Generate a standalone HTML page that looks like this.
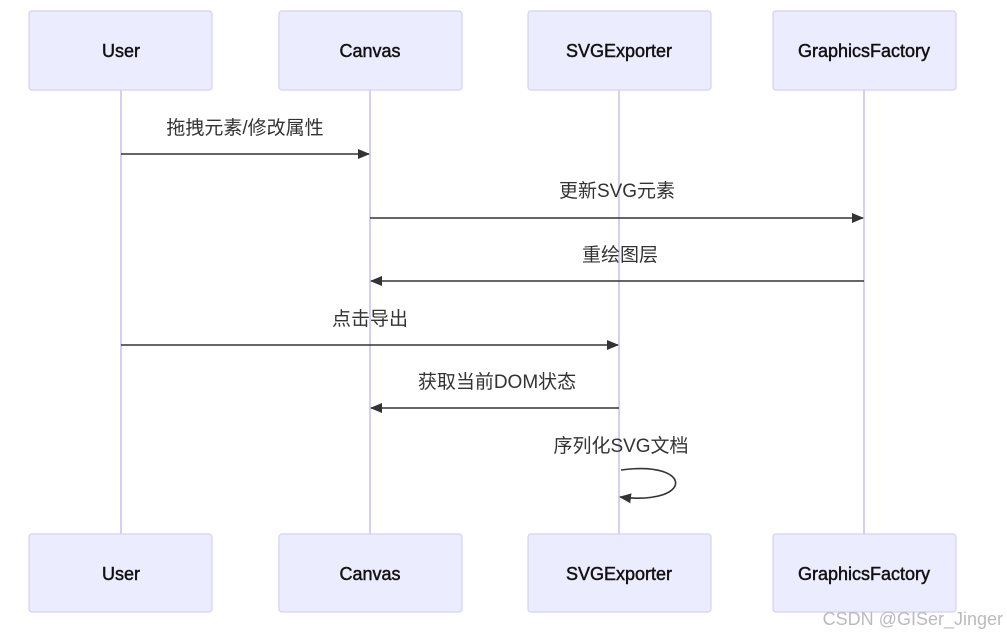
<!DOCTYPE html>
<html><head><meta charset="utf-8"><style>
html,body{margin:0;padding:0;background:#fff;width:1007px;height:637px;overflow:hidden}
svg text{font-family:"Liberation Sans","Noto Sans CJK SC",sans-serif}
</style></head><body>
<svg width="1007" height="637" viewBox="0 0 1007 637" xmlns="http://www.w3.org/2000/svg">
<defs><marker id="a" markerWidth="12" markerHeight="10" refX="11" refY="5" orient="auto" markerUnits="userSpaceOnUse"><path d="M0,0 L12,5 L0,10 z" fill="#333"/></marker></defs>
<g stroke="#d6cff2" stroke-width="2">
<line x1="121" y1="90" x2="121" y2="534"/><line x1="370" y1="90" x2="370" y2="534"/>
<line x1="619" y1="90" x2="619" y2="534"/><line x1="864" y1="90" x2="864" y2="534"/>
</g>
<g fill="#ececff" stroke="#d6cff2" stroke-width="1.2">
<rect x="29" y="11" width="183" height="79" rx="3"/><rect x="279" y="11" width="183" height="79" rx="3"/>
<rect x="528" y="11" width="183" height="79" rx="3"/><rect x="773" y="11" width="183" height="79" rx="3"/>
<rect x="29" y="534" width="183" height="78" rx="3"/><rect x="279" y="534" width="183" height="78" rx="3"/>
<rect x="528" y="534" width="183" height="78" rx="3"/><rect x="773" y="534" width="183" height="78" rx="3"/>
</g>
<g font-size="18" fill="#111" text-anchor="middle" stroke="#111" stroke-width="0.45">
<text x="121" y="57">User</text><text x="370" y="57">Canvas</text><text x="619" y="57">SVGExporter</text><text x="864" y="57">GraphicsFactory</text>
<text x="121" y="580">User</text><text x="370" y="580">Canvas</text><text x="619" y="580">SVGExporter</text><text x="864" y="580">GraphicsFactory</text>
</g>
<g stroke="#333" stroke-width="1.6" marker-end="url(#a)" fill="none">
<line x1="121" y1="154" x2="369" y2="154"/>
<line x1="370" y1="218" x2="863" y2="218"/>
<line x1="864" y1="281" x2="371" y2="281"/>
<line x1="121" y1="345" x2="618" y2="345"/>
<line x1="619" y1="408" x2="371" y2="408"/>
<path d="M621,470 C694,460 694,506 620,497"/>
</g>
<g font-size="19" fill="#333" text-anchor="middle">
<text x="245" y="134">拖拽元素/修改属性</text>
<text x="617" y="197">更新SVG元素</text>
<text x="620" y="261">重绘图层</text>
<text x="370" y="325">点击导出</text>
<text x="497" y="388">获取当前DOM状态</text>
<text x="621" y="452">序列化SVG文档</text>
</g>
<text x="1003" y="625" font-size="18" fill="#bbb" text-anchor="end">CSDN @GISer_Jinger</text>
</svg>
</body></html>
